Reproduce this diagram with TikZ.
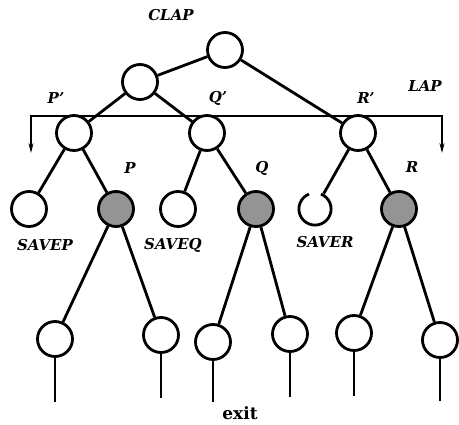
\documentclass[tikz,border=0pt]{standalone}
\usepackage{fontspec}
\newfontfamily\labelfont{DejaVu Serif}
\usetikzlibrary{arrows.meta}
\begin{document}
\begin{tikzpicture}[x=1pt,y=-1pt,
  vtx/.style={circle,draw,line width=2.8pt,minimum size=35pt,inner sep=0pt},
  hot/.style={vtx,fill=black!42},
  ghost/.style={circle,minimum size=35pt,inner sep=0pt},
  edge/.style={line width=2.8pt},
  stem/.style={line width=2.4pt},
  lbl/.style={font=\labelfont\fontsize{15}{17}\selectfont\bfseries\itshape},
  lapline/.style={line width=1.2pt,{Stealth[length=10pt,width=5pt]}-{Stealth[length=10pt,width=5pt]}}]
\useasboundingbox (0,0) rectangle (459,425);

% upper tree
\node[vtx] (root) at (225,50) {};
\node[vtx] (mid) at (140,82) {};
\node[vtx] (pp) at (74,133) {};
\node[vtx] (qp) at (207,133) {};
\node[vtx] (rp) at (358,133) {};

% saved nodes and live nodes
\node[vtx] (savep) at (29,209) {};
\node[hot] (p) at (116,209) {};
\node[vtx] (saveq) at (178,209) {};
\node[hot] (q) at (256,209) {};
\node[ghost] (saver) at (315,209) {};
\node[hot] (r) at (399,209) {};

% open circle for SAVER
\draw[line width=2.8pt] (saver.center) ++(-68:16.1) arc[start angle=-68,end angle=248,radius=16.1];

% leaves
\node[vtx] (l1) at (55,339) {};
\node[vtx] (l2) at (161,335) {};
\node[vtx] (l3) at (213,342) {};
\node[vtx] (l4) at (290,334) {};
\node[vtx] (l5) at (354,333) {};
\node[vtx] (l6) at (440,340) {};

\coordinate (e1) at (55,402);
\coordinate (e2) at (161,398);
\coordinate (e3) at (213,402);
\coordinate (e4) at (290,397);
\coordinate (e5) at (354,396);
\coordinate (e6) at (440,401);

% LAP bracket
\coordinate (lapl) at (31,153);
\coordinate (lapc) at (442,116);
\coordinate (lapr) at (442,153);
\draw[lapline] (lapl) |- (lapc) -- (lapr);

% edges
\draw[edge] (root) -- (mid);
\draw[edge] (root) -- (rp);
\draw[edge] (mid) -- (pp);
\draw[edge] (mid) -- (qp);
\draw[edge] (pp) -- (savep);
\draw[edge] (pp) -- (p);
\draw[edge] (qp) -- (saveq);
\draw[edge] (qp) -- (q);
\draw[edge] (rp) -- (saver);
\draw[edge] (rp) -- (r);
\draw[edge] (p) -- (l1);
\draw[edge] (p) -- (l2);
\draw[edge] (q) -- (l3);
\draw[edge] (q) -- (l4);
\draw[edge] (r) -- (l5);
\draw[edge] (r) -- (l6);

\draw[stem] (l1) -- (e1);
\draw[stem] (l2) -- (e2);
\draw[stem] (l3) -- (e3);
\draw[stem] (l4) -- (e4);
\draw[stem] (l5) -- (e5);
\draw[stem] (l6) -- (e6);

% labels
\node[lbl] (tclap) at (171,15) {CLAP};
\node[lbl] (tlap) at (425,86) {LAP};
\node[lbl] (tpp) at (56,98) {P’};
\node[lbl] (tqp) at (218,98) {Q’};
\node[lbl] (trp) at (366,98) {R’};
\node[lbl] (tp) at (130,168) {P};
\node[lbl] (tq) at (262,168) {Q};
\node[lbl] (tr) at (412,167) {R};
\node[lbl] (tsp) at (45,245) {SAVEP};
\node[lbl] (tsq) at (173,245) {SAVEQ};
\node[lbl] (tsr) at (325,242) {SAVER};
\node[font=\labelfont\fontsize{17}{19}\selectfont\bfseries] (texit) at (240,413) {exit};
\end{tikzpicture}
\end{document}
